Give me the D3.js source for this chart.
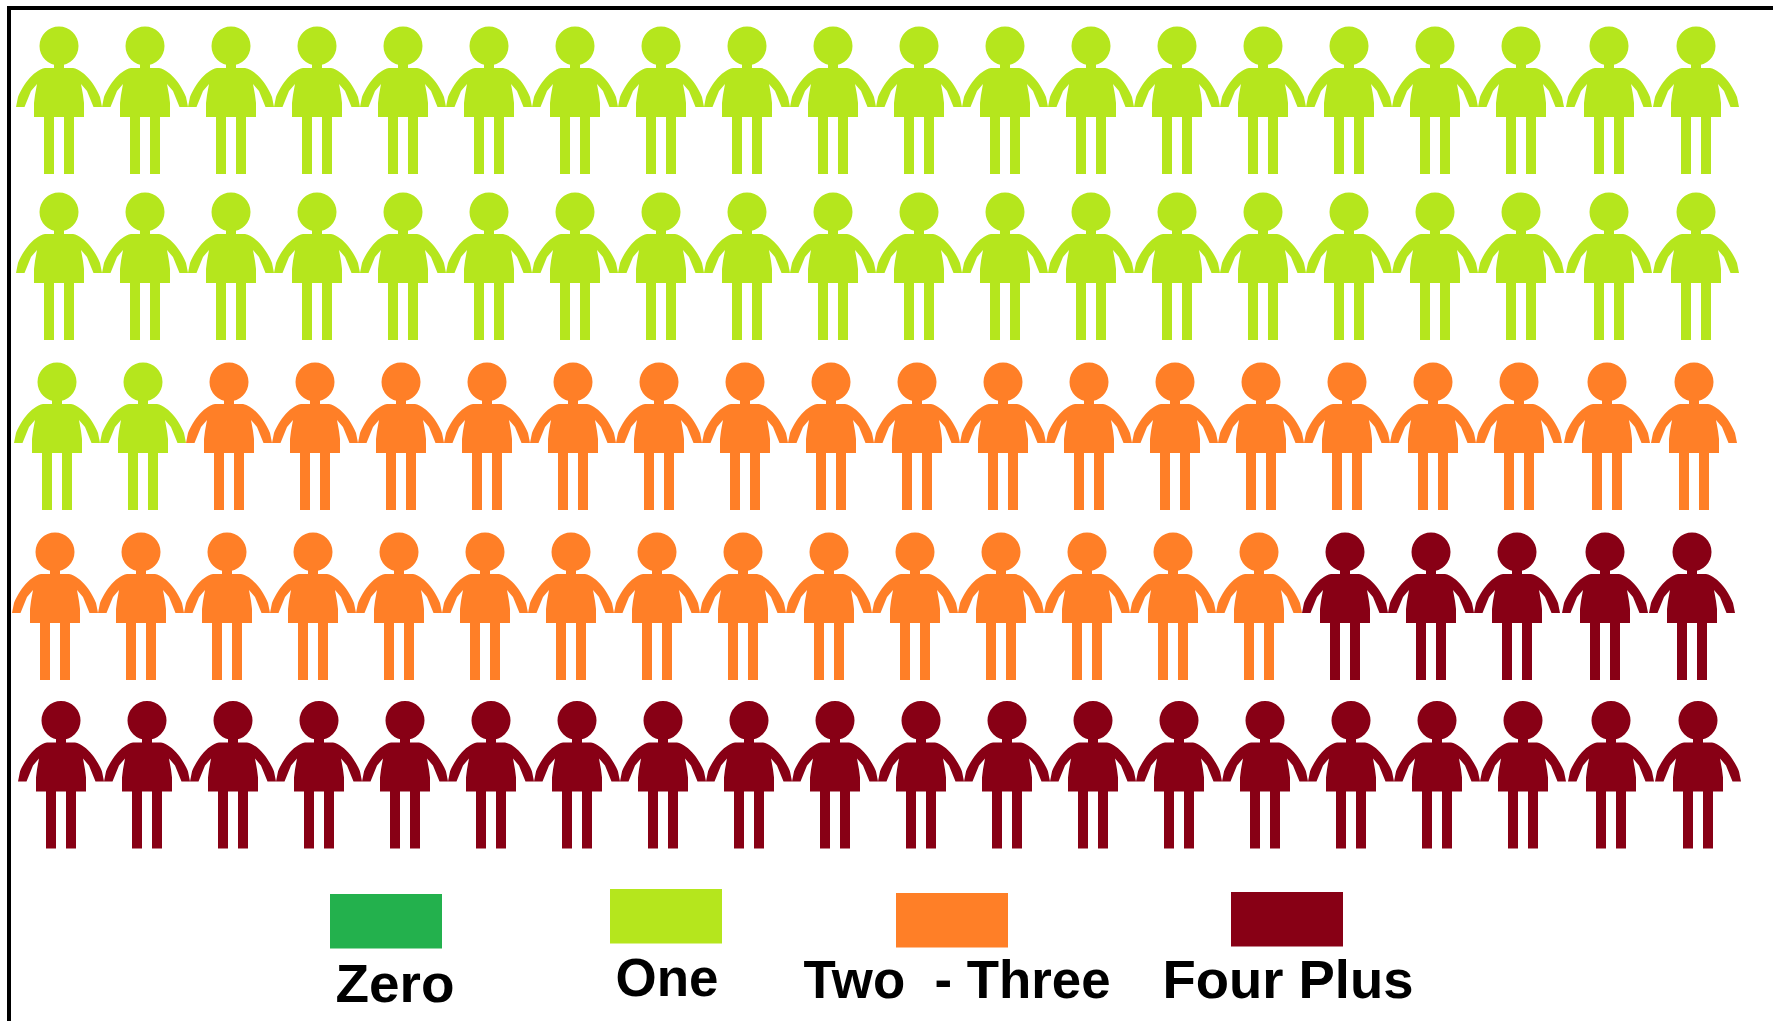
<!DOCTYPE html>
<html><head><meta charset="utf-8">
<script src="https://cdn.jsdelivr.net/npm/d3@7"></script>
<style>html,body{margin:0;padding:0;background:#fff}svg{display:block}</style>
</head><body><svg id="c" width="1773" height="1021"></svg>
<script>
const categories = ["Zero","One","Two - Three","Four Plus"];
const counts = [0,42,33,25];
const colours = ["#23b14d","#b5e61d","#ff7f27","#880015"];
const perRow = 20;

const W=1773,H=1021;
const svg=d3.select("#c");
svg.append("rect").attr("width",W).attr("height",H).attr("fill","#fff");
svg.append("rect").attr("x",7).attr("y",6).attr("width",4).attr("height",H-6).attr("fill","#000");
svg.append("rect").attr("x",7).attr("y",6).attr("width",W-7).attr("height",4).attr("fill","#000");

const people=categories.flatMap((c,i)=>d3.range(counts[i]).map(()=>c));
const rows=d3.range(Math.ceil(people.length/perRow));
const headY=d3.scaleOrdinal().domain(rows).range([45,211,381,551,719.5]);
const firstX=d3.scaleOrdinal().domain(rows).range([59,59,57,55,61]);
const col=d3.scaleLinear().domain([0,17,18,19]).range([0,1462,1550,1637]);
const colour=d3.scaleOrdinal().domain(categories).range(colours);

const bodyPath=[
"M-19.5,1a19.5,19.5 0 1,1 39,0a19.5,19.5 0 1,1 -39,0Z",
"M-5,15H5V25H-5Z",
"M-14,23H14C20,24 26,29 31,35C36,41 40,49 41,52L43,62H34.5L28,46L22,39L24,50L25,58V72H15V129H5V72H-5V129H-15V72H-25V58L-24,50L-22,39L-28,46L-34.5,62H-43L-41,52C-40,49 -36,41 -31,35C-26,29 -20,24 -14,23Z"
].join("");

svg.append("g").selectAll("path").data(people).join("path")
 .attr("d",bodyPath)
 .attr("fill",d=>colour(d))
 .attr("transform",(d,i)=>{const r=Math.floor(i/perRow),c=i%perRow;return `translate(${firstX(r)+col(c)},${headY(r)})`;});

const swatchX=d3.scaleOrdinal().domain(categories).range([330,610,896,1231]);
const swatchY=d3.scaleOrdinal().domain(categories).range([894,889,893,892]);
const textX=d3.scaleOrdinal().domain(categories).range([395,667,957,1288]);
const textY=d3.scaleOrdinal().domain(categories).range([1002,996,998,998]);
const textW=d3.scaleOrdinal().domain(categories).range([119,103,307,251]);
const lg=svg.append("g");
lg.selectAll("rect").data(categories).join("rect")
 .attr("x",d=>swatchX(d)).attr("y",d=>swatchY(d)).attr("width",112).attr("height",54.5).attr("fill",d=>colour(d));
lg.selectAll("text").data(categories).join("text")
 .attr("x",d=>textX(d)).attr("y",d=>textY(d)).attr("text-anchor","middle")
 .attr("font-family","'Liberation Sans',Arial,sans-serif").attr("font-weight","bold").attr("font-size",53)
 .attr("textLength",d=>textW(d)).attr("lengthAdjust","spacingAndGlyphs")
 .attr("fill","#000").text(d=>d==="Two - Three"?"Two  - Three":d).style("white-space","pre");
</script></body></html>
